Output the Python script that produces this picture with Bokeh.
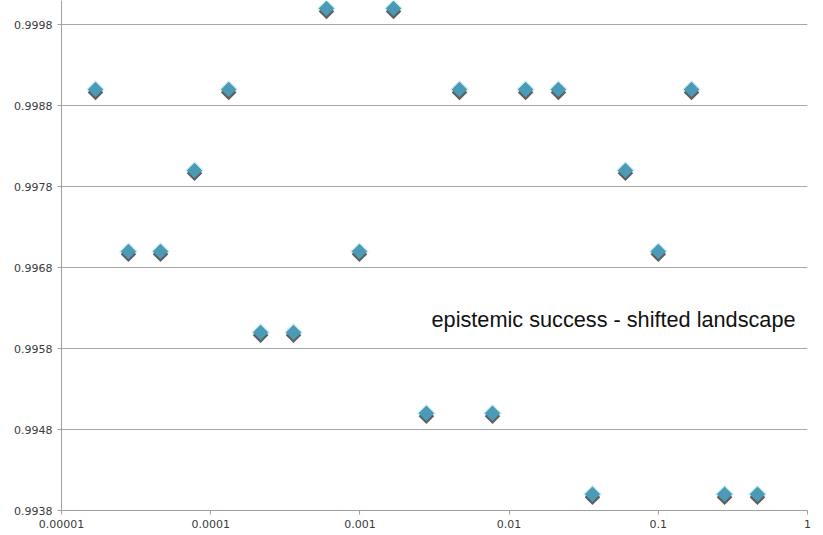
import math
from bokeh.plotting import figure
from bokeh.models import ColumnDataSource, FixedTicker, Range1d, Label
from bokeh.transform import dodge
from bokeh.embed import file_html
from bokeh.resources import INLINE

# step size (log scale) and the resulting epistemic success
step_sizes = [1.69e-5, 2.81e-5, 4.61e-5, 7.79e-5, 1.32e-4, 2.16e-4, 3.59e-4,
              5.97e-4, 9.93e-4, 1.68e-3, 2.79e-3, 4.65e-3, 7.74e-3, 0.0129,
              0.0214, 0.0362, 0.0602, 0.100, 0.167, 0.278, 0.462]
success = [0.9990, 0.9970, 0.9970, 0.9980, 0.9990, 0.9960, 0.9960,
           1.0000, 0.9970, 1.0000, 0.9950, 0.9990, 0.9950, 0.9990,
           0.9990, 0.9940, 0.9980, 0.9970, 0.9990, 0.9940, 0.9940]

x_ticks = [1e-5, 1e-4, 1e-3, 1e-2, 1e-1, 1.0]
x_tick_labels = ["0.00001", "0.0001", "0.001", "0.01", "0.1", "1"]
y_ticks = [0.9938, 0.9948, 0.9958, 0.9968, 0.9978, 0.9988, 0.9998]
y_tick_labels = ["0.9938", "0.9948", "0.9958", "0.9968", "0.9978", "0.9988", "0.9998"]

source = ColumnDataSource(data=dict(x=step_sizes, y=success))

p = figure(width=823, height=535, x_axis_type="log",
           x_range=Range1d(1e-5, 1.0), y_range=Range1d(0.9938, 1.0001),
           output_backend="svg", toolbar_location=None,
           min_border_left=61, min_border_right=16,
           min_border_top=0, min_border_bottom=25)
p.outline_line_color = None
p.background_fill_color = "white"
p.border_fill_color = "white"

axis_color = "#a0a0a0"
label_color = "#3a3a3a"

p.xaxis.ticker = FixedTicker(ticks=x_ticks)
p.xaxis.major_label_overrides = dict(zip(x_ticks, x_tick_labels))
p.yaxis.ticker = FixedTicker(ticks=y_ticks)
p.yaxis.major_label_overrides = dict(zip(y_ticks, y_tick_labels))

for ax in (p.xaxis, p.yaxis):
    ax.axis_line_color = axis_color
    ax.major_tick_line_color = axis_color
    ax.minor_tick_line_color = None
    ax.major_tick_in = 0
    ax.major_tick_out = 4
    ax.major_label_text_font = "DejaVu Sans"
    ax.major_label_text_font_size = "11px"
    ax.major_label_text_color = label_color
    ax.major_label_standoff = 5

p.xgrid.grid_line_color = None
p.ygrid.grid_line_color = "#a8a8a8"
p.ygrid.ticker = FixedTicker(ticks=y_ticks)

rot = math.pi / 4
# soft glow around each marker
p.scatter("x", "y", source=source, marker="square", angle=rot, size=13.5,
          fill_color="#c6eef2", line_color=None, fill_alpha=0.8)
# shadow, shifted slightly below the marker
p.scatter("x", dodge("y", -0.000035, range=p.y_range), source=source,
          marker="square", angle=rot, size=11,
          fill_color="#5e5e5e", line_color=None)
# main marker
p.scatter("x", "y", source=source, marker="square", angle=rot, size=11,
          fill_color="#4b9ab8", line_color=None)

p.add_layout(Label(x=0.00302, y=0.99616, text="epistemic success - shifted landscape",
                   text_font="Liberation Sans", text_font_size="21.7px",
                   text_color="#111111", text_baseline="middle"))

open("out.html", "w").write(file_html(p, INLINE))
